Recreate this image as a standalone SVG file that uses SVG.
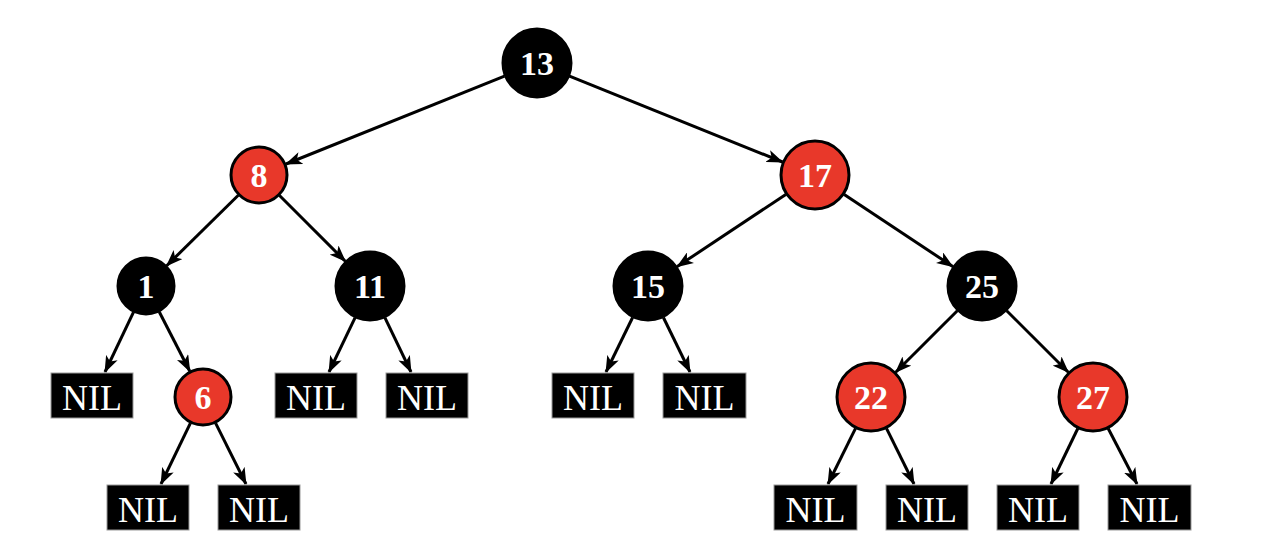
<svg xmlns="http://www.w3.org/2000/svg" width="1280" height="560" viewBox="0 0 1280 560">
<style>
.bk{fill:#000;stroke:#000;stroke-width:3}
.rd{fill:#E8382A;stroke:#000;stroke-width:3}
.lbl{font-family:"Liberation Serif",serif;font-weight:bold;font-size:34px;fill:#fff;text-anchor:middle}
.nil rect{fill:#000;stroke:#999;stroke-width:1}
.nil text{font-family:"Liberation Serif",serif;font-size:36px;fill:#fff;text-anchor:middle}
.edges line{stroke:#000;stroke-width:3;marker-end:url(#ah)}
</style>
<defs>
<marker id="ah" markerUnits="userSpaceOnUse" viewBox="0 0 16 12" markerWidth="17" markerHeight="13" refX="15" refY="6" orient="auto">
<path d="M0,0 L16,6 L0,12 L4,6 z" fill="#000"/>
</marker>
</defs>
<rect width="1280" height="560" fill="#fff"/>
<g class="edges">
<line x1="504.5" y1="76.1" x2="286" y2="164"/>
<line x1="569.5" y1="76.1" x2="782.5" y2="162"/>
<line x1="238.3" y1="195.3" x2="166.7" y2="265.7"/>
<line x1="279.5" y1="195.5" x2="345.3" y2="261.3"/>
<line x1="785.8" y1="194.4" x2="677.2" y2="266.6"/>
<line x1="844.2" y1="194.4" x2="952.8" y2="266.6"/>
<line x1="133.5" y1="312.2" x2="105" y2="372"/>
<line x1="159.2" y1="311.8" x2="189.8" y2="371.2"/>
<line x1="355.1" y1="317.6" x2="329" y2="372"/>
<line x1="384.9" y1="317.6" x2="411" y2="372"/>
<line x1="632.6" y1="317.5" x2="606" y2="372"/>
<line x1="663.4" y1="317.5" x2="690" y2="372"/>
<line x1="957.3" y1="310.7" x2="895.7" y2="372.3"/>
<line x1="1006.7" y1="310.7" x2="1068.3" y2="372.3"/>
<line x1="190.4" y1="423.1" x2="161" y2="484"/>
<line x1="215.6" y1="423.1" x2="246" y2="484"/>
<line x1="855.5" y1="428.4" x2="828" y2="484"/>
<line x1="886.5" y1="428.4" x2="914" y2="484"/>
<line x1="1077.8" y1="428.5" x2="1051" y2="484"/>
<line x1="1108.2" y1="428.5" x2="1137" y2="484"/>
</g>
<g id="n13"><circle class="bk" cx="537" cy="63" r="34"/><text class="lbl" x="537" y="75">13</text></g>
<g id="n8"><circle class="rd" cx="259" cy="175" r="28"/><text class="lbl" x="259" y="187">8</text></g>
<g id="n17"><circle class="rd" cx="815" cy="175" r="34"/><text class="lbl" x="815" y="187">17</text></g>
<g id="n1"><circle class="bk" cx="146" cy="286" r="28"/><text class="lbl" x="146" y="298">1</text></g>
<g id="n11"><circle class="bk" cx="370" cy="286" r="34"/><text class="lbl" x="370" y="298">11</text></g>
<g id="n15"><circle class="bk" cx="648" cy="286" r="34"/><text class="lbl" x="648" y="298">15</text></g>
<g id="n25"><circle class="bk" cx="982" cy="286" r="34"/><text class="lbl" x="982" y="298">25</text></g>
<g id="n6"><circle class="rd" cx="203" cy="397" r="28"/><text class="lbl" x="203" y="409">6</text></g>
<g id="n22"><circle class="rd" cx="871" cy="397" r="34"/><text class="lbl" x="871" y="409">22</text></g>
<g id="n27"><circle class="rd" cx="1093" cy="397" r="34"/><text class="lbl" x="1093" y="409">27</text></g>
<g id="nil1" class="nil"><rect x="51" y="373" width="82" height="45"/><text x="92" y="410">NIL</text></g>
<g id="nil2" class="nil"><rect x="275" y="373" width="82" height="45"/><text x="316" y="410">NIL</text></g>
<g id="nil3" class="nil"><rect x="386" y="373" width="82" height="45"/><text x="427" y="410">NIL</text></g>
<g id="nil4" class="nil"><rect x="552" y="373" width="82" height="45"/><text x="593" y="410">NIL</text></g>
<g id="nil5" class="nil"><rect x="663" y="373" width="83" height="45"/><text x="704.5" y="410">NIL</text></g>
<g id="nil6" class="nil"><rect x="107" y="485" width="82" height="45"/><text x="148" y="522">NIL</text></g>
<g id="nil7" class="nil"><rect x="218" y="485" width="82" height="45"/><text x="259" y="522">NIL</text></g>
<g id="nil8" class="nil"><rect x="774" y="485" width="83" height="45"/><text x="815.5" y="522">NIL</text></g>
<g id="nil9" class="nil"><rect x="886" y="485" width="82" height="45"/><text x="927" y="522">NIL</text></g>
<g id="nil10" class="nil"><rect x="997" y="485" width="82" height="45"/><text x="1038" y="522">NIL</text></g>
<g id="nil11" class="nil"><rect x="1108" y="485" width="83" height="45"/><text x="1149.5" y="522">NIL</text></g>
</svg>
